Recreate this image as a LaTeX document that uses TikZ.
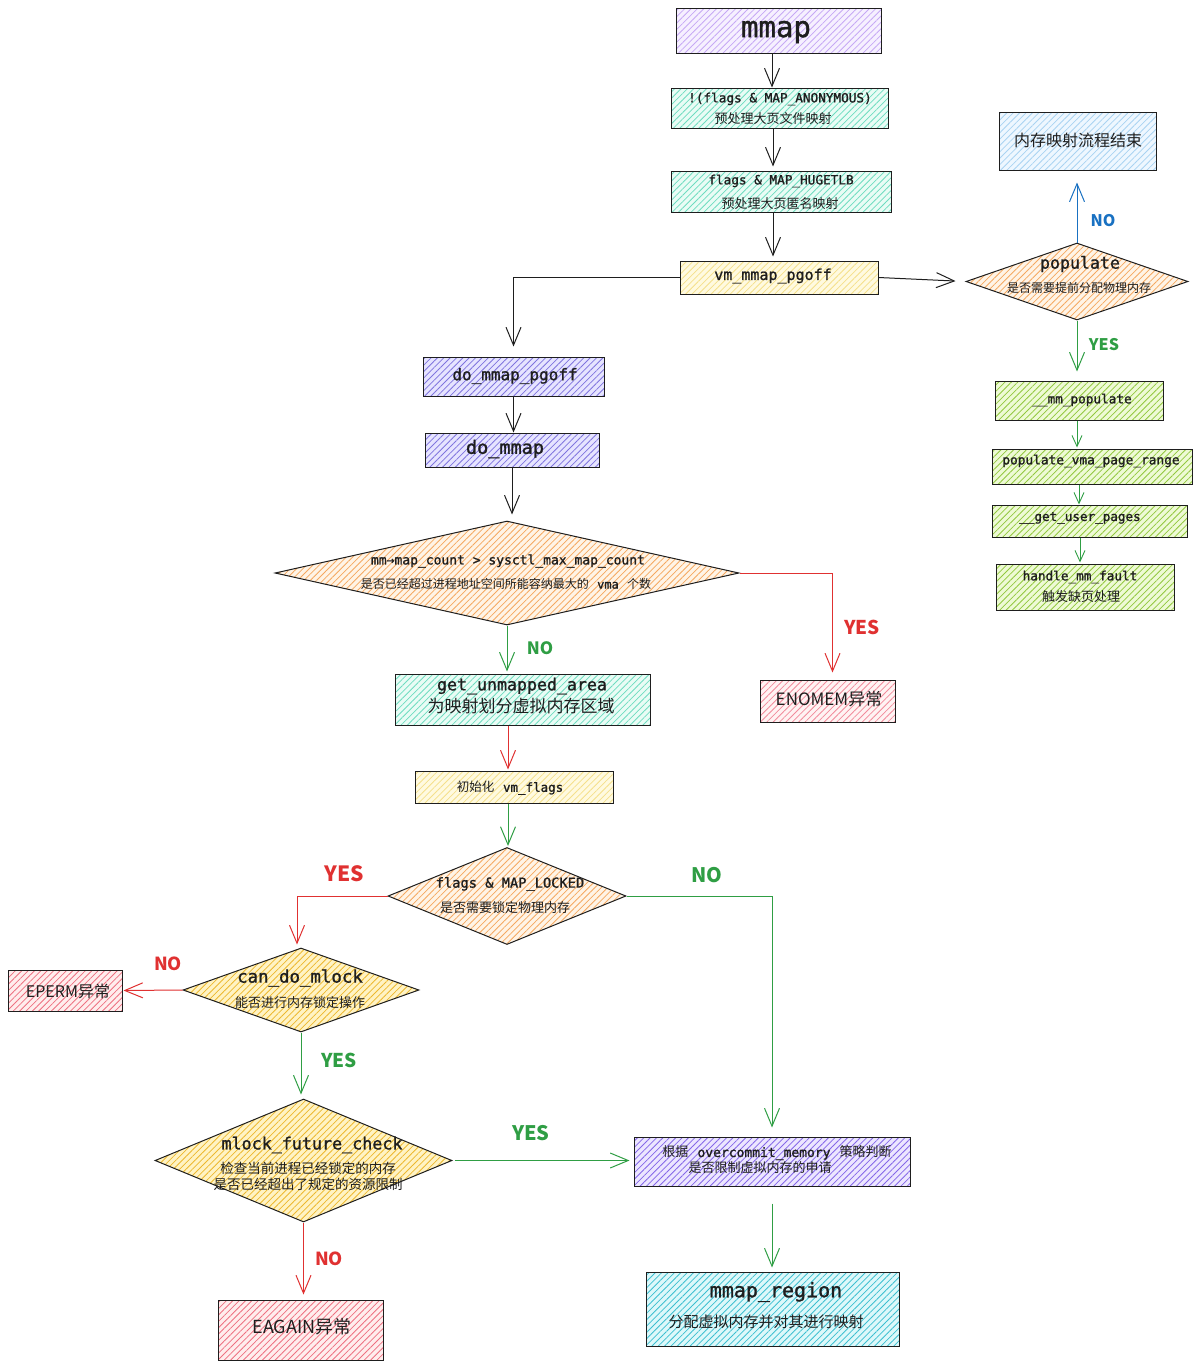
\documentclass[tikz,border=0pt]{standalone}
\usepackage{fontspec}
\setmainfont{Noto Sans CJK SC}
\newfontfamily\codefont[FakeBold=1.2]{DejaVu Sans Mono}
\usetikzlibrary{shapes.geometric,arrows.meta,patterns.meta}
\definecolor{ink}{HTML}{1E1E1E}
\definecolor{cgreen}{HTML}{2F9E44}
\definecolor{cred}{HTML}{E03131}
\definecolor{cblue}{HTML}{1971C2}
% fills / hatches
\definecolor{vioF}{HTML}{F6F0FF}\definecolor{vioH}{HTML}{C6A8F5}
\definecolor{tealF}{HTML}{E9FCF5}\definecolor{tealH}{HTML}{6EDCC0}
\definecolor{yelF}{HTML}{FFFAE0}\definecolor{yelH}{HTML}{F5E08A}
\definecolor{bluF}{HTML}{E6E4FF}\definecolor{bluH}{HTML}{7F74DE}
\definecolor{oraF}{HTML}{FFF4E6}\definecolor{oraH}{HTML}{F5A860}
\definecolor{ydF}{HTML}{FFF3C4}\definecolor{ydH}{HTML}{EDB82E}
\definecolor{redF}{HTML}{FFF3F3}\definecolor{redH}{HTML}{F28B9B}
\definecolor{red2F}{HTML}{FFEDED}\definecolor{red2H}{HTML}{EE7080}
\definecolor{purF}{HTML}{ECE6FF}\definecolor{purH}{HTML}{8466E8}
\definecolor{cyaF}{HTML}{DDF8FA}\definecolor{cyaH}{HTML}{3CBFD0}
\definecolor{finF}{HTML}{EEF7FF}\definecolor{finH}{HTML}{A9D3F2}
\definecolor{grnF}{HTML}{EEFAD5}\definecolor{grnH}{HTML}{92C83E}
\newcommand{\myZ}[1]{\fontsize{#1}{#1}\selectfont}
\newcommand{\myC}[1]{\codefont\fontsize{#1}{#1}\selectfont}
\newcommand{\cf}[1]{{\codefont #1}}
\newcommand{\gap}{\hspace{0.7em}}
\tikzset{
  hatch/.style 2 args={draw=ink, line width=1pt, inner sep=0pt,
    preaction={fill=#1},
    pattern={Lines[angle=45,distance=4.5pt,line width=0.8pt]}, pattern color=#2},
  boxit/.style={rectangle},
  dia/.style={diamond, aspect=2},
  txt/.style={inner sep=0pt, text=ink, align=center},
  lbl/.style={inner sep=0pt, font=\bfseries},
  arr/.style={line width=1pt, -{Straight Barb[length=18pt,width=15pt,line width=1pt]}},
  sarr/.style={line width=0.9pt, -{Straight Barb[length=11pt,width=10pt,line width=0.9pt]}},
}
\begin{document}
\begin{tikzpicture}[x=1pt,y=-1pt]
\useasboundingbox (0,0) rectangle (1200,1368);
\fill[white] (0,0) rectangle (1200,1368);

% ---------- shapes ----------
\node[boxit,hatch={vioF}{vioH},minimum width=205,minimum height=45] (mmap) at (778.5,30.5) {};
\node[boxit,hatch={tealF}{tealH},minimum width=217,minimum height=40] (anon) at (779.5,108) {};
\node[boxit,hatch={tealF}{tealH},minimum width=220,minimum height=41] (huge) at (781,191.5) {};
\node[boxit,hatch={yelF}{yelH},minimum width=198,minimum height=33] (vm) at (779,277.5) {};
\node[boxit,hatch={bluF}{bluH},minimum width=181,minimum height=39] (dmp) at (513.5,376.5) {};
\node[boxit,hatch={bluF}{bluH},minimum width=174,minimum height=34] (dm) at (512,450) {};
\node[dia,hatch={oraF}{oraH},minimum width=464,minimum height=104] (d1) at (507,573) {};
\node[boxit,hatch={tealF}{tealH},minimum width=255,minimum height=51] (gua) at (522.5,699.5) {};
\node[boxit,hatch={redF}{redH},minimum width=135,minimum height=42] (enomem) at (827.5,701) {};
\node[boxit,hatch={yelF}{yelH},minimum width=198,minimum height=32] (init) at (514,787) {};
\node[dia,hatch={oraF}{oraH},minimum width=238,minimum height=97] (d2) at (507,896) {};
\node[dia,hatch={ydF}{ydH},minimum width=236,minimum height=84] (cdm) at (301,990) {};
\node[boxit,hatch={red2F}{red2H},minimum width=114,minimum height=41] (eperm) at (65,990.5) {};
\node[dia,hatch={ydF}{ydH},minimum width=297,minimum height=123] (mfc) at (303.5,1160.5) {};
\node[boxit,hatch={red2F}{red2H},minimum width=165,minimum height=60] (eagain) at (300.5,1330) {};
\node[boxit,hatch={purF}{purH},minimum width=276,minimum height=49] (over) at (772,1161.5) {};
\node[boxit,hatch={cyaF}{cyaH},minimum width=253,minimum height=74] (mreg) at (772.5,1309) {};
\node[boxit,hatch={finF}{finH},minimum width=157,minimum height=58] (fin) at (1077.5,141) {};
\node[dia,hatch={oraF}{oraH},minimum width=222,minimum height=77] (pop) at (1077,281.5) {};
\node[boxit,hatch={grnF}{grnH},minimum width=168,minimum height=39] (mmp) at (1079,400.5) {};
\node[boxit,hatch={grnF}{grnH},minimum width=200,minimum height=35] (pvpr) at (1092,466.5) {};
\node[boxit,hatch={grnF}{grnH},minimum width=195,minimum height=32] (gup) at (1089.5,521) {};
\node[boxit,hatch={grnF}{grnH},minimum width=178,minimum height=46] (hmf) at (1085,587) {};

% ---------- texts ----------
\node[txt,font=\myC{29}] (t-mmap) at (776,32) {mmap};
\node[txt,font=\myC{12.7}] (t-anon1) at (780,99) {!(flags \& MAP\_ANONYMOUS)};
\node[txt,font=\myZ{13}] (t-anon2) at (773,119) {预处理大页文件映射};
\node[txt,font=\myC{12.7}] (t-huge1) at (781,181) {flags \& MAP\_HUGETLB};
\node[txt,font=\myZ{13}] (t-huge2) at (780,204) {预处理大页匿名映射};
\node[txt,font=\myC{15}] (t-vm) at (773,276) {vm\_mmap\_pgoff};
\node[txt,font=\myC{16}] (t-dmp) at (515,376) {do\_mmap\_pgoff};
\node[txt,font=\myC{18.5}] (t-dm) at (505,449) {do\_mmap};
\node[txt,font=\myC{13}] (t-d1a) at (508,561) {mm→map\_count > sysctl\_max\_map\_count};
\node[txt,font=\myZ{12}] (t-d1b) at (506,584) {是否已经超过进程地址空间所能容纳最大的\gap\cf{vma}\gap 个数};
\node[txt,font=\myC{16.6}] (t-gua1) at (522,686) {get\_unmapped\_area};
\node[txt,font=\myZ{17}] (t-gua2) at (521,706) {为映射划分虚拟内存区域};
\node[txt,font=\myZ{17}] (t-enomem) at (829,699) {ENOMEM异常};
\node[txt,font=\myZ{12.5}] (t-init) at (510,788) {初始化\gap\cf{vm\_flags}};
\node[txt,font=\myC{13.7}] (t-d2a) at (510,884) {flags \& MAP\_LOCKED};
\node[txt,font=\myZ{13}] (t-d2b) at (505,908) {是否需要锁定物理内存};
\node[txt,font=\myC{17.4}] (t-cdm1) at (300,978) {can\_do\_mlock};
\node[txt,font=\myZ{13}] (t-cdm2) at (300,1003) {能否进行内存锁定操作};
\node[txt,font=\myZ{16}] (t-eperm) at (68,991) {EPERM异常};
\node[txt,font=\myC{16.7}] (t-mfc1) at (312,1145) {mlock\_future\_check};
\node[txt,font=\myZ{13.5}] (t-mfc2) at (308,1168) {检查当前进程已经锁定的内存};
\node[txt,font=\myZ{13.5}] (t-mfc3) at (308,1184) {是否已经超出了规定的资源限制};
\node[txt,font=\myZ{18}] (t-eagain) at (302,1327) {EAGAIN异常};
\node[txt,font=\myZ{13}] (t-over1) at (777,1153) {根据\gap\cf{overcommit\_memory}\gap 策略判断};
\node[txt,font=\myZ{13}] (t-over2) at (760,1168) {是否限制虚拟内存的申请};
\node[txt,font=\myC{20}] (t-mreg1) at (776,1292) {mmap\_region};
\node[txt,font=\myZ{15}] (t-mreg2) at (766,1322) {分配虚拟内存并对其进行映射};
\node[txt,font=\myZ{16}] (t-fin) at (1078,140) {内存映射流程结束};
\node[txt,font=\myC{16.6}] (t-pop1) at (1080,264) {populate};
\node[txt,font=\myZ{12}] (t-pop2) at (1079,288) {是否需要提前分配物理内存};
\node[txt,font=\myC{12.7}] (t-mmp) at (1082,400) {\_\_mm\_populate};
\node[txt,font=\myC{12.8}] (t-pvpr) at (1091,461) {populate\_vma\_page\_range};
\node[txt,font=\myC{12.6}] (t-gup) at (1080,518) {\_\_get\_user\_pages};
\node[txt,font=\myC{12.7}] (t-hmf1) at (1080,577) {handle\_mm\_fault};
\node[txt,font=\myZ{13}] (t-hmf2) at (1081,597) {触发缺页处理};

% ---------- connectors ----------
\draw[arr,ink] (mmap.south -| 772,0) -- (anon.north -| 772,0);
\draw[arr,ink] (anon.south -| 773,0) -- ([yshift=4pt]huge.north -| 773,0);
\draw[arr,ink] (huge.south -| 773,0) -- ([yshift=4pt]vm.north -| 773,0);
\draw[arr,ink,shorten >=10pt] (vm.east) -- (pop.west);
\draw[arr,ink,shorten >=10pt] (vm.west) -| (dmp.north);
\draw[arr,ink] (dmp.south) -- (dmp.south |- dm.north);
\draw[arr,ink,shorten >=6pt] (dm.south) -- (dm.south |- d1.north);
\draw[arr,cgreen,shorten >=2pt] (d1.south) -- (d1.south |- gua.north);
\draw[arr,cred,shorten >=7pt] (d1.east) -| ([xshift=5pt]enomem.north);
\draw[arr,cred] (gua.south -| 508,0) -- ([yshift=1pt]init.north -| 508,0);
\draw[arr,cgreen] (init.south -| 508,0) -- ([yshift=1pt]d2.north -| 508,0);
\draw[arr,cred,shorten >=3pt] (d2.west) -| ([xshift=-4pt]cdm.north);
\draw[arr,cgreen,shorten >=9pt] (d2.east) -| (over.north);
\draw[arr,cred,shorten >=1pt] (cdm.west) -- (eperm.east);
\draw[arr,cgreen,shorten >=4pt] (cdm.south) -- (cdm.south |- mfc.north);
\draw[arr,cgreen,shorten >=4pt,shorten <=2pt] (mfc.east) -- (mfc.east -| over.west);
\draw[arr,cred,shorten >=5pt] (mfc.south) -- (mfc.south |- eagain.north);
\draw[arr,cgreen,shorten <=17pt,shorten >=4pt] (over.south) -- (over.south |- mreg.north);
\draw[arr,cblue,shorten >=12pt] (pop.north) -- (pop.north |- fin.south);
\draw[arr,cgreen,shorten >=9pt] (pop.south) -- (pop.south |- mmp.north);
\draw[sarr,cgreen] (mmp.south -| 1077,0) -- ([yshift=1pt]pvpr.north -| 1077,0);
\draw[sarr,cgreen] (pvpr.south -| 1079,0) -- (gup.north -| 1079,0);
\draw[sarr,cgreen] (gup.south -| 1080,0) -- ([yshift=1pt]hmf.north -| 1080,0);

% ---------- labels ----------
\node[lbl,text=cgreen,font=\bfseries\myZ{17}] (l1) at (540,648) {NO};
\node[lbl,text=cred,font=\bfseries\myZ{19}] (l2) at (862,627) {YES};
\node[lbl,text=cred,font=\bfseries\myZ{21}] (l3) at (344,874) {YES};
\node[lbl,text=cgreen,font=\bfseries\myZ{20}] (l4) at (707,875) {NO};
\node[lbl,text=cred,font=\bfseries\myZ{18}] (l5) at (168,964) {NO};
\node[lbl,text=cgreen,font=\bfseries\myZ{19}] (l6) at (339,1060) {YES};
\node[lbl,text=cgreen,font=\bfseries\myZ{20}] (l7) at (531,1133) {YES};
\node[lbl,text=cred,font=\bfseries\myZ{18}] (l8) at (329,1259) {NO};
\node[lbl,text=cblue,font=\bfseries\myZ{16}] (l9) at (1103,221) {NO};
\node[lbl,text=cgreen,font=\bfseries\myZ{16}] (l10) at (1104,345) {YES};
\end{tikzpicture}
\end{document}
